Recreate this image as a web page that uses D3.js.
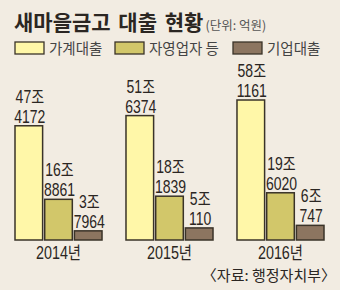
<!DOCTYPE html>
<html>
<head>
<meta charset="utf-8">
<script src="https://cdn.jsdelivr.net/npm/d3@7"></script>
<style>
  body { margin: 0; background: #f2ece2; }
  svg { display: block; }
</style>
</head>
<body>
<div class="loan-chart"></div>
<script>
  // 새마을금고 대출 현황 (단위: 억원)
  const years = ["2014년", "2015년", "2016년"];
  const series = ["가계대출", "자영업자 등", "기업대출"];
  const household = [474172, 516374, 581161];
  const selfEmployed = [168861, 181839, 196020];
  const corporate = [37964, 50110, 60747];
  const colors = ["#fff7a8", "#d2c76a", "#8c7560"];

  const width = 340;
  const height = 290;
  const baseY = 240;
  const numFont = "'Liberation Sans', 'Noto Sans CJK KR', sans-serif";

  const data = years.map((y, i) => ({
    year: y,
    values: [household[i], selfEmployed[i], corporate[i]]
  }));

  const svg = d3.select('.loan-chart')
    .append("svg")
    .attr("width", width)
    .attr("height", height);

  svg.append("rect")
    .attr("width", width)
    .attr("height", height)
    .attr("fill", "#f2ece2");

  // title
  const title = svg.append("text")
    .attr("x", 14)
    .attr("y", 30)
    .attr("font-family", "'Noto Sans CJK KR', sans-serif")
    .attr("fill", "#2b2622");
  title.append("tspan")
    .attr("font-size", "21px")
    .attr("font-weight", "bold")
    .attr("word-spacing", "3px")
    .text("새마을금고 대출 현황");
  title.append("tspan")
    .attr("font-size", "12.5px")
    .attr("fill", "#555")
    .attr("dx", 2)
    .text("(단위: 억원)");

  // legend
  const legendX = [15, 115, 233];
  const legend = svg.selectAll(".legend")
    .data(series)
    .enter()
    .append("g")
    .attr("class", "legend")
    .attr("transform", (d, i) => `translate(${legendX[i]},42)`);
  legend.append("rect")
    .attr("width", 29)
    .attr("height", 12)
    .attr("fill", (d, i) => colors[i])
    .attr("stroke", "#3a3328")
    .attr("stroke-width", 1.3);
  legend.append("text")
    .attr("x", 34)
    .attr("y", 12)
    .attr("font-family", "'Noto Sans CJK KR', sans-serif")
    .attr("font-size", "14.5px")
    .attr("fill", "#444")
    .text(d => d);

  const x0 = d3.scaleBand()
    .domain(years)
    .range([15, 324])
    .paddingInner(0.216)
    .paddingOuter(0);

  const x1 = d3.scaleBand()
    .domain(d3.range(series.length))
    .range([0, x0.bandwidth()])
    .paddingInner(0.07);

  const y = d3.scaleLinear()
    .domain([0, 600000])
    .range([baseY, baseY - 600000 * 140 / 581161]);

  const groups = svg.selectAll(".year-group")
    .data(data)
    .enter()
    .append("g")
    .attr("class", "year-group")
    .attr("transform", d => `translate(${x0(d.year)},0)`);

  groups.selectAll("rect")
    .data(d => d.values)
    .enter()
    .append("rect")
    .attr("x", (d, i) => x1(i))
    .attr("y", d => y(d))
    .attr("width", x1.bandwidth())
    .attr("height", d => baseY - y(d))
    .attr("fill", (d, i) => colors[i])
    .attr("stroke", "#3a3328")
    .attr("stroke-width", 1.5);

  // value labels: "47조" / "4172"
  const labels = groups.selectAll(".value-label")
    .data(d => d.values)
    .enter()
    .append("g")
    .attr("class", "value-label")
    .attr("transform", (d, i) => `translate(${x1(i) + x1.bandwidth() / 2 + 1},${y(d)})`);

  labels.append("text")
    .attr("transform", "translate(0,-23) scale(0.8,1)")
    .attr("text-anchor", "middle")
    .attr("font-family", numFont)
    .attr("font-size", "17.5px")
    .attr("fill", "#2b2622")
    .text(d => Math.floor(d / 10000) + "조");

  labels.append("text")
    .attr("transform", "translate(0,-3) scale(0.8,1)")
    .attr("text-anchor", "middle")
    .attr("font-family", numFont)
    .attr("font-size", "17.5px")
    .attr("fill", "#2b2622")
    .text(d => d % 10000);

  // year labels
  groups.append("text")
    .attr("transform", d => `translate(${x0.bandwidth() / 2},259) scale(0.82,1)`)
    .attr("text-anchor", "middle")
    .attr("font-family", numFont)
    .attr("font-size", "17.5px")
    .attr("fill", "#2b2622")
    .text(d => d.year);

  // source
  svg.append("text")
    .attr("x", 336)
    .attr("y", 281)
    .attr("text-anchor", "end")
    .attr("font-family", "'Noto Sans CJK KR', sans-serif")
    .attr("font-size", "15px")
    .attr("fill", "#2b2622")
    .text("〈자료: 행정자치부〉");
</script>
</body>
</html>
